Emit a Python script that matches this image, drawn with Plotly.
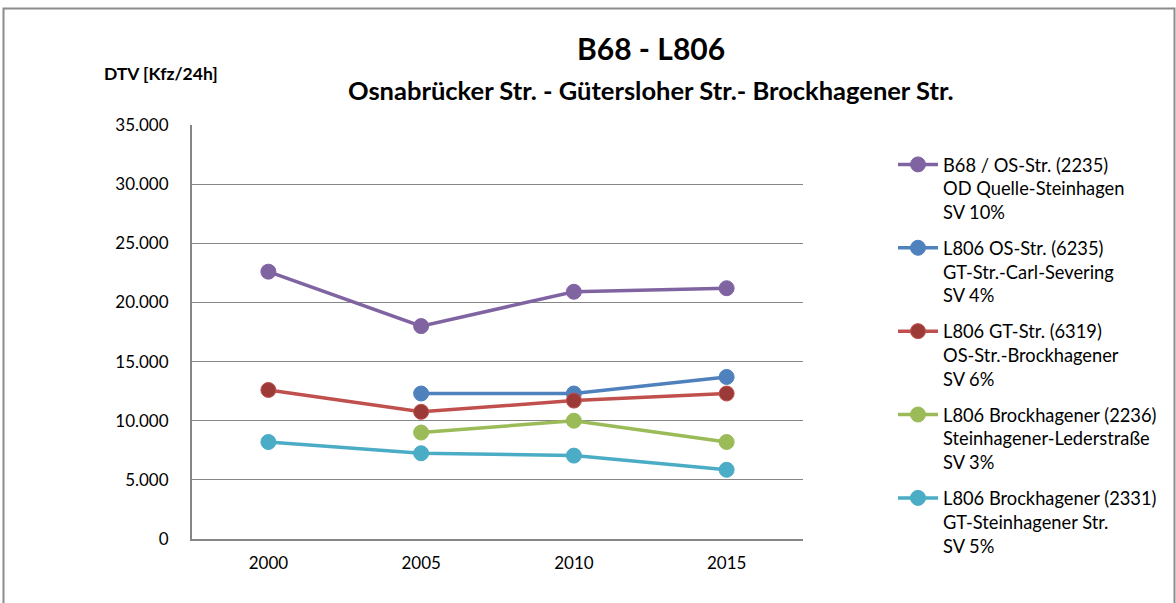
import plotly.graph_objects as go

years = ["2000", "2005", "2010", "2015"]

names = [
    "B68 / OS-Str. (2235)<br>OD Quelle-Steinhagen<br>SV 10%",
    "L806 OS-Str. (6235)<br>GT-Str.-Carl-Severing<br>SV 4%",
    "L806 GT-Str. (6319)<br>OS-Str.-Brockhagener<br>SV 6%",
    "L806 Brockhagener (2236)<br>Steinhagener-Lederstraße<br>SV 3%",
    "L806 Brockhagener (2331)<br>GT-Steinhagener Str.<br>SV 5%",
]

b68_os = [22600, 18000, 20900, 21200]
l806_os = [None, 12300, 12300, 13700]
l806_gt = [12600, 10750, 11700, 12300]
l806_brock_2236 = [None, 9000, 10000, 8200]
l806_brock_2331 = [8200, 7250, 7050, 5850]

series = [b68_os, l806_os, l806_gt, l806_brock_2236, l806_brock_2331]
line_colors = ["#8064A2", "#4F81BD", "#C0504D", "#9BBB59", "#4BACC6"]
marker_colors = ["#8064A2", "#4F81BD", "#9B3A37", "#9BBB59", "#4BACC6"]

y_ticks = [0, 5000, 10000, 15000, 20000, 25000, 30000, 35000]

W, H = 1176, 603
L, R, T, B = 192, 803, 125, 539
FONT = "Lato"


def px(x):
    return (x - L) / (R - L)


def py(y):
    return (B - y) / (B - T)


fig = go.Figure()
for i, (vals, nm) in enumerate(zip(series, names)):
    fig.add_trace(go.Scatter(
        x=years, y=vals, name=nm, mode="lines+markers",
        legendgroup=f"g{i}",
        line=dict(color=line_colors[i], width=3.5),
        marker=dict(size=15, color=marker_colors[i],
                    line=dict(color=line_colors[i], width=1)),
        connectgaps=False,
    ))

fig.update_layout(
    width=W, height=H,
    margin=dict(l=L, r=W - R, t=T, b=H - B),
    paper_bgcolor="white", plot_bgcolor="white",
    separators=",.",
    font=dict(family=FONT, size=17, color="black"),
    showlegend=True,
    legend=dict(
        x=px(893), y=py(146), xanchor="left", yanchor="top",
        valign="top", tracegroupgap=9, maxheight=1000,
        font=dict(family=FONT, size=18.3, color="black"),
        bgcolor="rgba(0,0,0,0)", itemwidth=40,
    ),
    xaxis=dict(
        type="category", range=[-0.5, 3.5], showgrid=False,
        showline=True, linecolor="#868686", linewidth=2,
        ticks="", tickfont=dict(family=FONT, size=17), ticklabelstandoff=8,
        fixedrange=True,
    ),
    yaxis=dict(
        range=[0, 35000], tickvals=y_ticks, tickformat=",d",
        showgrid=True, gridcolor="#868686", gridwidth=1,
        showline=True, linecolor="#868686", linewidth=2,
        zeroline=False, ticks="", ticklabelstandoff=18,
        tickfont=dict(family=FONT, size=17),
    ),
)

fig.add_shape(type="rect", xref="paper", yref="paper",
              x0=px(3.5), x1=px(1174.5), y0=py(612), y1=py(8.5),
              line=dict(color="#8C8C8C", width=2), fillcolor="rgba(0,0,0,0)",
              layer="below")

fig.add_annotation(text="<b>B68 - L806</b>", xref="paper", yref="paper",
                   x=px(651), y=py(48), xanchor="center", yanchor="middle",
                   showarrow=False, font=dict(family=FONT, size=30, color="black"))
fig.add_annotation(text="<b>Osnabrücker Str. - Gütersloher Str.- Brockhagener Str.</b>",
                   xref="paper", yref="paper",
                   x=px(651), y=py(90), xanchor="center", yanchor="middle",
                   showarrow=False, font=dict(family=FONT, size=25.5, color="black"))
fig.add_annotation(text="<b>DTV [Kfz/24h]</b>", xref="paper", yref="paper",
                   x=px(161), y=py(73), xanchor="center", yanchor="middle",
                   showarrow=False, font=dict(family=FONT, size=17.5, color="black"))

fig.write_html("out.html", config={"displayModeBar": False},
               post_script="document.body.style.margin='0';document.body.style.padding='0';")
